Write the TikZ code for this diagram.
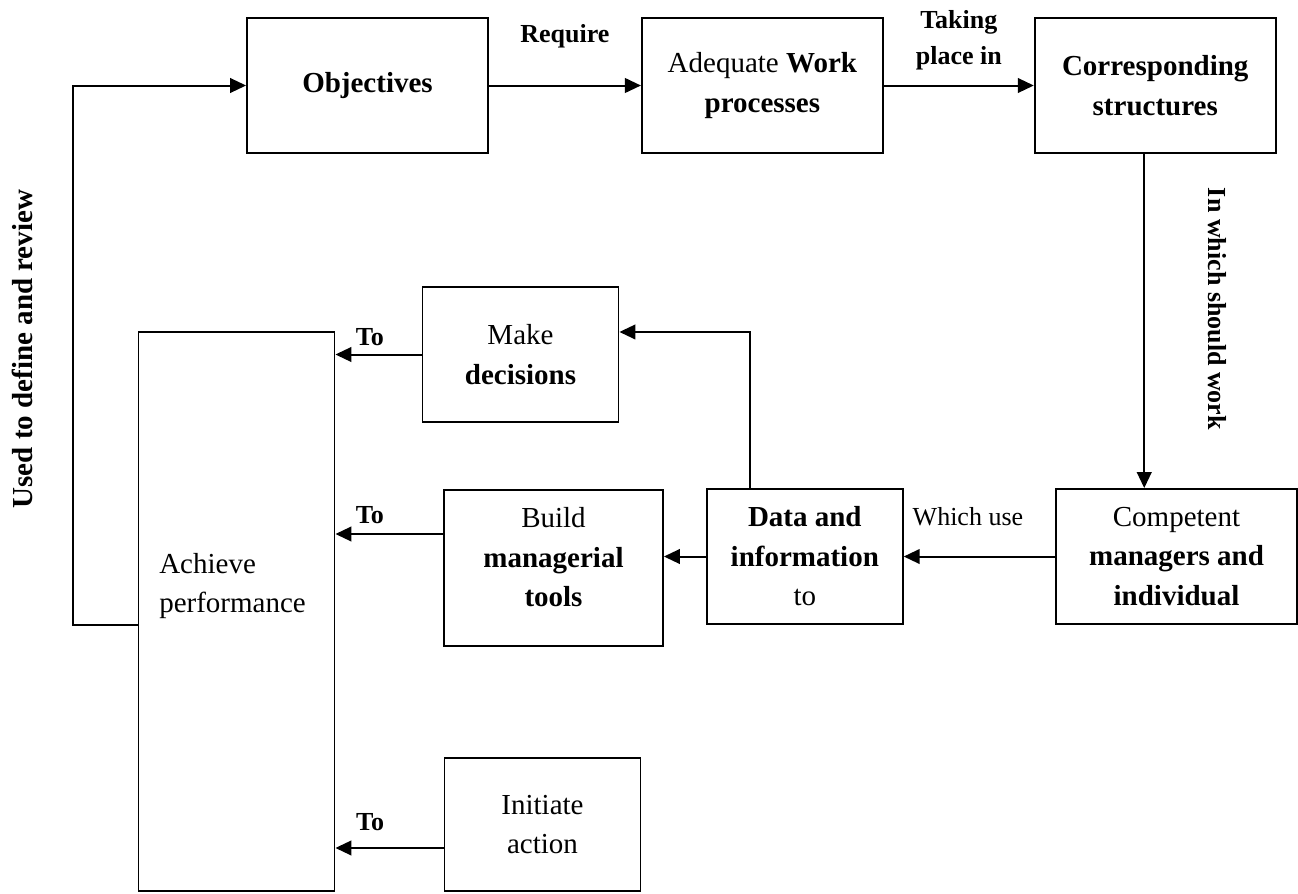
\documentclass[tikz,border=0pt]{standalone}
\usepackage{fontspec}
\setmainfont{Liberation Serif}
\usetikzlibrary{arrows.meta,positioning}

\begin{document}
\begin{tikzpicture}[x=0.75pt, y=-0.75pt,
  box/.style={draw, line width=1.4pt, align=center, inner sep=2pt, minimum height=101.25pt, font=\fontsize{21.75}{29.6}\selectfont},
  wide/.style={box, minimum width=180.75pt},
  narrow/.style={box, minimum width=147pt},
  lbl/.style={font=\fontsize{19.5}{27}\selectfont\bfseries, align=center, inner sep=0pt},
  arr/.style={line width=1.5pt, -{Triangle[length=12pt, width=11pt]}}]
  \useasboundingbox (0,0) rectangle (1298,893);

  \node[wide] (obj) at (367.5,85.5) {\textbf{Objectives}};
  \node[wide, right=114pt of obj] (proc) {Adequate \textbf{Work}\\ \textbf{processes}};
  \node[wide, right=112.5pt of proc] (struct) {\textbf{Corresponding}\\ \textbf{structures}};
  \node[wide] (comp) at (1176.5,556.5) {Competent\\ \textbf{managers and}\\ \textbf{individual}};
  \node[narrow, left=113.5pt of comp] (data) {\textbf{Data and}\\ \textbf{information}\\ to};
  \node[box, minimum width=164.25pt, minimum height=117pt] (build) at (553.5,568) {Build\\ \textbf{managerial}\\ \textbf{tools}\rule[-16pt]{0pt}{0pt}};
  \node[narrow] (make) at (520.5,354.5) {Make\\ \textbf{decisions}};
  \node[narrow, minimum height=99.75pt] (init) at (542.5,824.5) {Initiate\\ action};
  \node[narrow, minimum height=419.25pt] (ach) at (236.5,611.5) {};
  \node[anchor=west, align=left, inner sep=0pt, font=\fontsize{21.75}{29.6}\selectfont] (achtxt) at (159,586) {Achieve\\ performance};

  \node[lbl, font=\fontsize{21.75}{29.6}\selectfont\bfseries, rotate=90] (used) at (22,349) {Used to define and review};
  \node[lbl, rotate=-90] (work) at (1217,309) {In which should work};

  \coordinate (drop) at ([xshift=-8.25pt]struct.south);
  \coordinate (rise) at ([xshift=-41.25pt]data.north);
  \coordinate (bout) at ([yshift=25.5pt]build.west);
  \coordinate (iout) at ([yshift=-17.6pt]init.west);

  \draw[arr] ([yshift=-10.1pt]ach.west) -- ++(-65,0) |- (obj.west);
  \draw[arr] (obj) -- node[lbl, yshift=37pt] {Require} (proc);
  \draw[arr] (proc) -- node[lbl, yshift=34pt] {Taking\\ place in} (struct);
  \draw[arr] (drop) -- (drop |- comp.north);
  \draw[arr] (comp) -- node[lbl, font=\fontsize{19.5}{27}\selectfont, yshift=30pt, xshift=-8.6pt] {Which use} (data);
  \draw[arr] (data.west) -- (data.west -| build.east);
  \draw[arr] (rise) |- ([yshift=16.9pt]make.east);
  \draw[arr] (make.west) -- node[lbl, pos=0.6, yshift=13.2pt] {To} (make.west -| ach.east);
  \draw[arr] (bout) -- node[lbl, pos=0.68, yshift=14pt] {To} (bout -| ach.east);
  \draw[arr] (iout) -- node[lbl, pos=0.68, yshift=19.5pt] {To} (iout -| ach.east);
\end{tikzpicture}
\end{document}
